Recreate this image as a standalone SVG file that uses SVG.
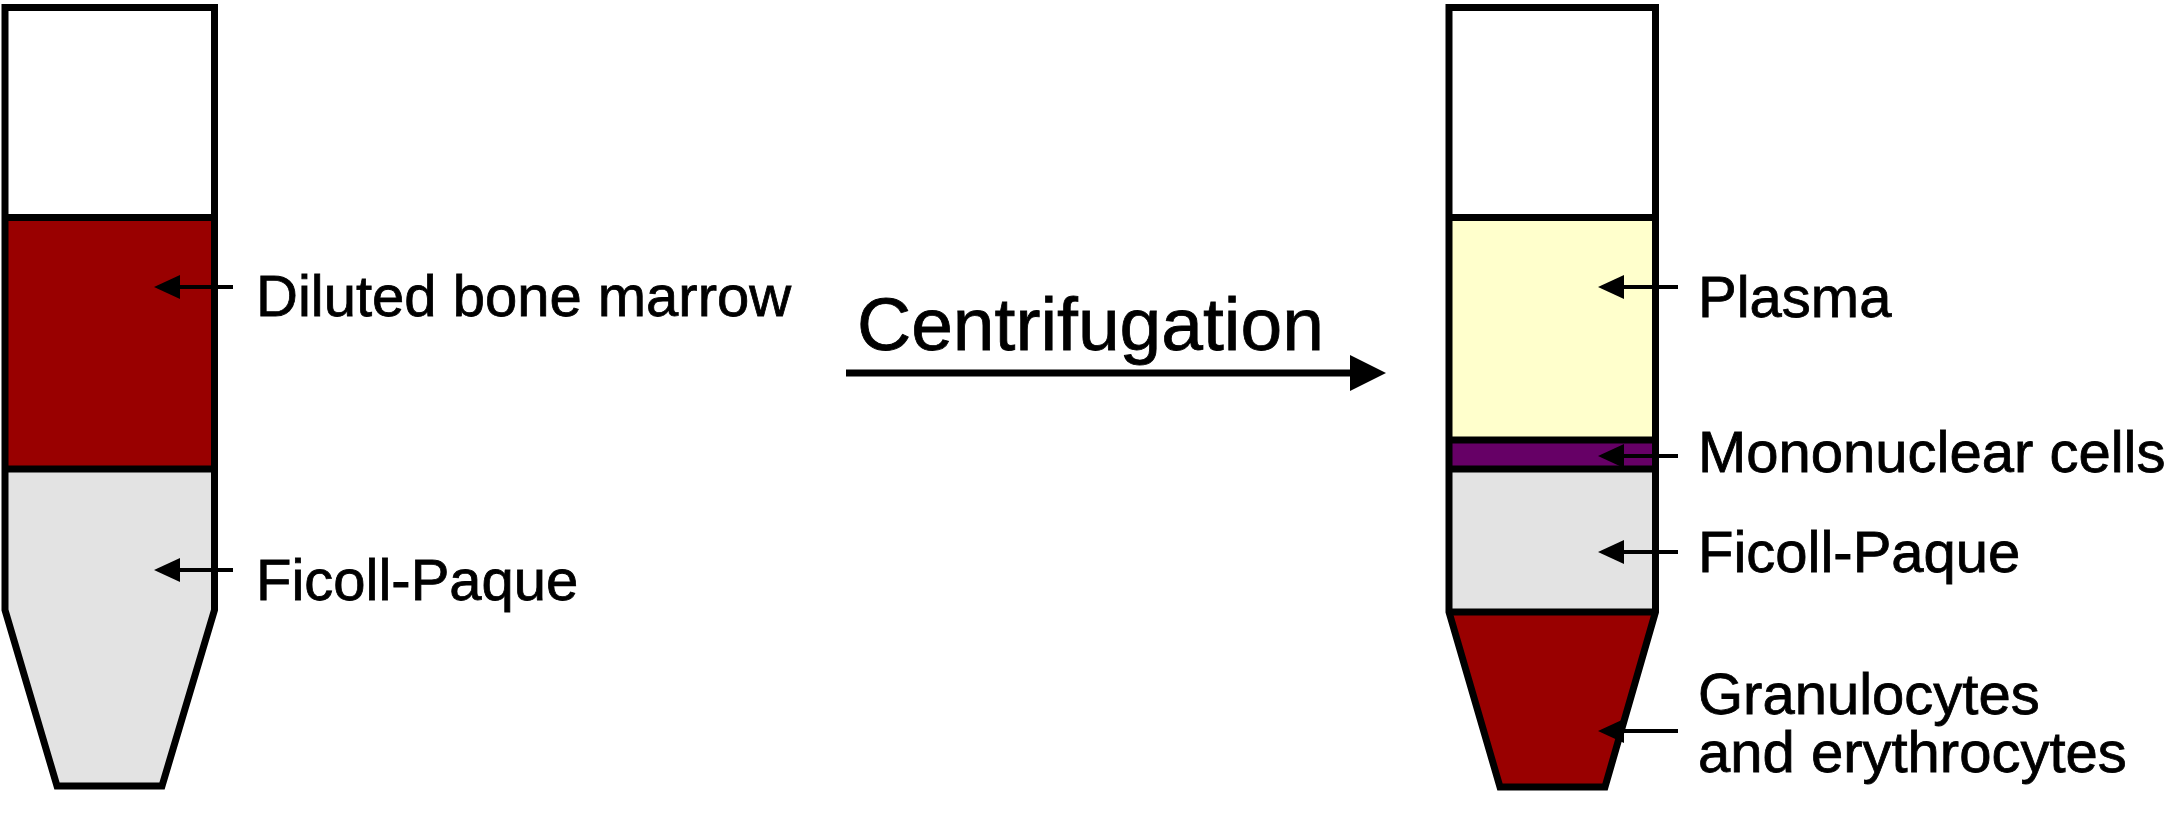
<svg xmlns="http://www.w3.org/2000/svg" width="2168" height="815" viewBox="0 0 2168 815">
<style>
.edge{fill:none;stroke:#000;stroke-width:7;stroke-linejoin:miter}
.div{stroke:#000;stroke-width:7}
.lbl{font-family:"Liberation Sans",Arial,sans-serif;font-size:58px;fill:#000;stroke:#000;stroke-width:0.8}
.ptr{stroke:#000;stroke-width:4}
.head{fill:#000}
</style>
<rect width="2168" height="815" fill="#fff"/>
<g id="tube-left">
<rect x="5" y="7.5" width="209.5" height="210" fill="#fff"/>
<rect x="5" y="217.5" width="209.5" height="252" fill="#990000"/>
<path d="M5,469 L214.5,469 L214.5,610 L162,786 L57,786 L5,610 Z" fill="#e3e3e3"/>
<line class="div" x1="5" y1="217.5" x2="214.5" y2="217.5"/>
<line class="div" x1="5" y1="469" x2="214.5" y2="469"/>
<path class="edge" d="M5,7.5 L214.5,7.5 L214.5,610 L162,786 L57,786 L5,610 Z"/>
</g>
<g id="tube-right">
<rect x="1449" y="7.5" width="206.5" height="210" fill="#fff"/>
<rect x="1449" y="217.5" width="206.5" height="222.5" fill="#ffffcc"/>
<rect x="1449" y="440" width="206.5" height="29" fill="#660066"/>
<rect x="1449" y="469" width="206.5" height="143" fill="#e3e3e3"/>
<path d="M1449,612 L1655.5,612 L1605,787 L1500,787 Z" fill="#990000"/>
<line class="div" x1="1449" y1="217.5" x2="1655.5" y2="217.5"/>
<line class="div" x1="1449" y1="440" x2="1655.5" y2="440"/>
<line class="div" x1="1449" y1="469" x2="1655.5" y2="469"/>
<line class="div" x1="1449" y1="612" x2="1655.5" y2="612"/>
<path class="edge" d="M1449,7.5 L1655.5,7.5 L1655.5,612 L1605,787 L1500,787 L1449,612 Z"/>
</g>
<g id="connectors">
<line class="ptr" x1="176" y1="287" x2="233" y2="287"/>
<path class="head" d="M154,287 L180,275 L180,299 Z"/>
<line class="ptr" x1="176" y1="570" x2="233" y2="570"/>
<path class="head" d="M154,570 L180,558 L180,582 Z"/>
<line class="ptr" x1="1620" y1="287" x2="1678" y2="287"/>
<path class="head" d="M1598,287 L1624,275 L1624,299 Z"/>
<line class="ptr" x1="1620" y1="456" x2="1678" y2="456"/>
<path class="head" d="M1598,456 L1624,444 L1624,468 Z"/>
<line class="ptr" x1="1620" y1="552" x2="1678" y2="552"/>
<path class="head" d="M1598,552 L1624,540 L1624,564 Z"/>
<line class="ptr" x1="1620" y1="731" x2="1678" y2="731"/>
<path class="head" d="M1598,731 L1624,719 L1624,743 Z"/>
<line x1="846" y1="373" x2="1352" y2="373" stroke="#000" stroke-width="7"/>
<path class="head" d="M1386,373 L1350,355 L1350,391 Z"/>
</g>
<g id="labels">
<text class="lbl" x="256" y="316">Diluted bone marrow</text>
<text class="lbl" x="256" y="600">Ficoll-Paque</text>
<text class="lbl" x="1698" y="317">Plasma</text>
<text class="lbl" x="1698" y="472">Mononuclear cells</text>
<text class="lbl" x="1698" y="572">Ficoll-Paque</text>
<text class="lbl" x="1698" y="714">Granulocytes</text>
<text class="lbl" x="1698" y="772">and erythrocytes</text>
<text class="lbl" x="857" y="350" style="font-size:75px">Centrifugation</text>
</g>
</svg>
